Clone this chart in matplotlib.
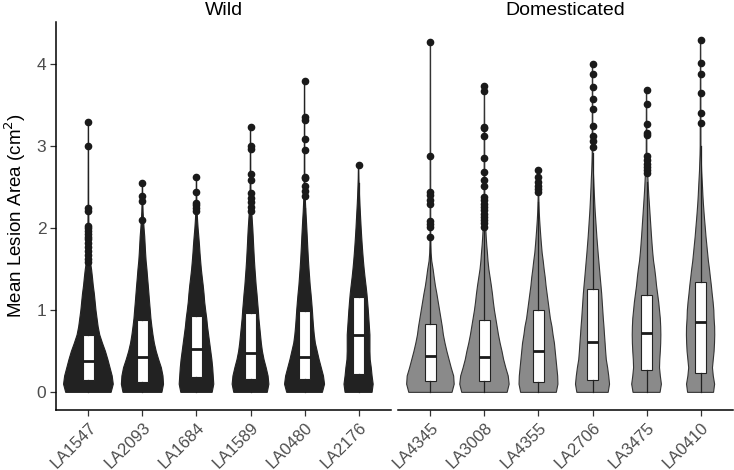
import numpy as np
import matplotlib
matplotlib.use("Agg")
import matplotlib.pyplot as plt
import matplotlib.transforms as mtrans

plt.rcParams['font.family'] = ['Liberation Sans', 'DejaVu Sans']

wild = ['LA1547', 'LA2093', 'LA1684', 'LA1589', 'LA0480', 'LA2176']
dom = ['LA4345', 'LA3008', 'LA4355', 'LA2706', 'LA3475', 'LA0410']

# box statistics: lower whisker, q1, median, q3, upper whisker
box_stats = {
    'LA1547': [0.01, 0.146, 0.378, 0.70, 1.55],
    'LA2093': [0.01, 0.122, 0.427, 0.886, 2.00],
    'LA1684': [0.01, 0.187, 0.53, 0.93, 2.00],
    'LA1589': [0.01, 0.163, 0.48, 0.967, 2.15],
    'LA0480': [0.01, 0.159, 0.427, 0.996, 2.25],
    'LA2176': [0.01, 0.22, 0.695, 1.163, 2.55],
    'LA4345': [0.01, 0.134, 0.447, 0.829, 1.85],
    'LA3008': [0.01, 0.138, 0.431, 0.878, 1.98],
    'LA4355': [0.01, 0.122, 0.508, 1.00, 2.32],
    'LA2706': [0.01, 0.146, 0.614, 1.26, 2.92],
    'LA3475': [0.01, 0.268, 0.723, 1.19, 2.57],
    'LA0410': [0.01, 0.236, 0.857, 1.34, 3.00],
}

outliers = {
    'LA1547': [3.30, 3.00, 2.25, 2.21, 2.03, 2.00, 1.97, 1.93, 1.90, 1.87, 1.82, 1.77, 1.72, 1.67, 1.63, 1.59],
    'LA2093': [2.55, 2.39, 2.33, 2.10],
    'LA1684': [2.62, 2.44, 2.31, 2.28, 2.25, 2.21],
    'LA1589': [3.23, 3.00, 2.97, 2.66, 2.59, 2.43, 2.37, 2.32, 2.26, 2.21],
    'LA0480': [3.80, 3.36, 3.32, 3.09, 2.95, 2.63, 2.61, 2.51, 2.45, 2.39],
    'LA2176': [2.77],
    'LA4345': [4.27, 2.88, 2.44, 2.40, 2.35, 2.30, 2.09, 2.05, 2.01, 1.90],
    'LA3008': [3.74, 3.67, 3.24, 3.22, 3.13, 2.86, 2.69, 2.59, 2.52, 2.38, 2.34, 2.30,
               2.26, 2.22, 2.18, 2.14, 2.10, 2.06, 2.02],
    'LA4355': [2.71, 2.63, 2.56, 2.52, 2.48, 2.44],
    'LA2706': [4.00, 3.88, 3.72, 3.58, 3.45, 3.25, 3.12, 3.06, 2.99],
    'LA3475': [3.69, 3.51, 3.27, 3.16, 3.14, 2.88, 2.83, 2.79, 2.75, 2.71, 2.67],
    'LA0410': [4.30, 4.02, 3.88, 3.65, 3.40, 3.28],
}

# violin half-widths read at y = 0, 0.1, 0.2, ... ; violin then runs thin up to max value
violin_half = {
    'LA1547': [0.42, 0.46, 0.44, 0.40, 0.36, 0.315, 0.26, 0.21, 0.18, 0.16, 0.14, 0.125, 0.11,
               0.09, 0.075, 0.058, 0.035, 0.022, 0.016, 0.012, 0.01, 0.008, 0.007, 0.005],
    'LA2093': [0.36, 0.39, 0.38, 0.35, 0.30, 0.255, 0.22, 0.195, 0.175, 0.157, 0.145, 0.132, 0.12,
               0.108, 0.095, 0.083, 0.068, 0.058, 0.05, 0.042, 0.03, 0.02, 0.012, 0.008, 0.005],
    'LA1684': [0.29, 0.32, 0.31, 0.30, 0.285, 0.265, 0.245, 0.225, 0.205, 0.19, 0.17, 0.152, 0.14,
               0.125, 0.107, 0.09, 0.077, 0.065, 0.055, 0.043, 0.03, 0.02, 0.012, 0.008, 0.005],
    'LA1589': [0.31, 0.34, 0.325, 0.29, 0.25, 0.22, 0.20, 0.185, 0.17, 0.155, 0.145, 0.132, 0.12,
               0.105, 0.094, 0.083, 0.073, 0.065, 0.057, 0.05, 0.042, 0.032, 0.022, 0.015, 0.01,
               0.007, 0.005],
    'LA0480': [0.33, 0.37, 0.35, 0.31, 0.27, 0.235, 0.20, 0.18, 0.166, 0.155, 0.145, 0.133, 0.12,
               0.105, 0.094, 0.083, 0.073, 0.065, 0.057, 0.05, 0.042, 0.034, 0.025, 0.018, 0.012,
               0.008, 0.005],
    'LA2176': [0.25, 0.27, 0.25, 0.235, 0.215, 0.21, 0.21, 0.21, 0.20, 0.19, 0.18, 0.168, 0.155,
               0.138, 0.12, 0.104, 0.09, 0.078, 0.067, 0.057, 0.048, 0.04, 0.032, 0.024, 0.017,
               0.012, 0.007],
    'LA4345': [0.40, 0.44, 0.43, 0.385, 0.345, 0.305, 0.27, 0.24, 0.22, 0.195, 0.17, 0.145, 0.12,
               0.092, 0.07, 0.05, 0.025, 0.013, 0.008, 0.006],
    'LA3008': [0.42, 0.457, 0.44, 0.395, 0.355, 0.325, 0.29, 0.26, 0.235, 0.21, 0.185, 0.165,
               0.148, 0.128, 0.105, 0.082, 0.066, 0.055, 0.042, 0.032, 0.024, 0.015, 0.01, 0.007],
    'LA4355': [0.33, 0.36, 0.355, 0.34, 0.325, 0.31, 0.295, 0.27, 0.25, 0.22, 0.20, 0.18, 0.16,
               0.14, 0.125, 0.105, 0.088, 0.068, 0.055, 0.043, 0.032, 0.022, 0.014, 0.009, 0.006],
    'LA2706': [0.29, 0.315, 0.30, 0.28, 0.255, 0.243, 0.233, 0.222, 0.212, 0.20, 0.19, 0.18, 0.17,
               0.157, 0.143, 0.13, 0.117, 0.104, 0.092, 0.08, 0.07, 0.06, 0.05, 0.042, 0.035,
               0.028, 0.022, 0.015, 0.01, 0.006],
    'LA3475': [0.25, 0.275, 0.255, 0.24, 0.245, 0.255, 0.262, 0.265, 0.262, 0.255, 0.24, 0.225,
               0.205, 0.185, 0.17, 0.152, 0.13, 0.115, 0.103, 0.092, 0.082, 0.072, 0.062, 0.052,
               0.042, 0.033, 0.026, 0.018, 0.01, 0.006],
    'LA0410': [0.24, 0.26, 0.235, 0.22, 0.235, 0.25, 0.258, 0.262, 0.26, 0.25, 0.245, 0.232,
               0.215, 0.20, 0.182, 0.165, 0.145, 0.13, 0.115, 0.10, 0.088, 0.075, 0.063, 0.052,
               0.043, 0.036, 0.028, 0.02, 0.015, 0.01, 0.007],
}

W, H = 734, 470
fig = plt.figure(figsize=(W / 100, H / 100), dpi=100)
ax_w = fig.add_axes([56 / W, 60 / H, 335 / W, 388 / H])
ax_d = fig.add_axes([398 / W, 60 / H, 335 / W, 388 / H], sharey=ax_w)

tick_col = '#4d4d4d'


def draw_panel(ax, names, fill, edge, title):
    for i, name in enumerate(names):
        pos = i + 1
        hw = np.array(violin_half[name])
        ys = np.arange(len(hw)) * 0.1
        top = max(outliers[name])
        ys = np.append(ys, top)
        hw = np.append(hw, 0.003)
        xs = np.concatenate([pos - hw, (pos + hw)[::-1]])
        yy = np.concatenate([ys, ys[::-1]])
        ax.fill(xs, yy, facecolor=fill, edgecolor=edge, lw=0.8, zorder=1)

    stats = []
    for name in names:
        lo, q1, med, q3, hi = box_stats[name]
        stats.append(dict(whislo=lo, q1=q1, med=med, q3=q3, whishi=hi,
                          fliers=outliers[name]))
    ax.bxp(stats, positions=range(1, len(names) + 1), widths=0.19,
           patch_artist=True, showcaps=False,
           boxprops=dict(facecolor='white', edgecolor='#222222', lw=0.8),
           medianprops=dict(color='#1a1a1a', lw=2),
           whiskerprops=dict(color='#222222', lw=0.9),
           flierprops=dict(marker='o', markerfacecolor='#1a1a1a',
                           markeredgecolor='#1a1a1a', markersize=4.5),
           zorder=2)

    ax.set_xlim(0.4, len(names) + 0.6)
    ax.set_xticks(range(1, len(names) + 1))
    ax.set_xticklabels(names, rotation=45, ha='right', va='top',
                       rotation_mode='anchor', fontsize=12, color=tick_col)
    offset = mtrans.ScaledTranslation(5 / 100, 2 / 100, fig.dpi_scale_trans)
    for lab in ax.get_xticklabels():
        lab.set_transform(lab.get_transform() + offset)
    ax.set_title(title, fontsize=14, pad=5)
    for s in ['top', 'right']:
        ax.spines[s].set_visible(False)
    ax.spines['bottom'].set_linewidth(1.1)
    ax.spines['left'].set_linewidth(1.1)
    ax.tick_params(axis='both', direction='out', length=4, width=0.9,
                   color='#333333', labelcolor=tick_col, pad=3)
    ax.tick_params(axis='y', labelsize=12.5)


draw_panel(ax_w, wild, '#222222', '#222222', 'Wild')
draw_panel(ax_d, dom, '#8a8a8a', '#333333', 'Domesticated')

ax_w.set_ylim(-0.215, 4.515)
ax_w.set_yticks([0, 1, 2, 3, 4])
ax_w.set_ylabel('Mean Lesion Area (cm$^2$)', fontsize=13.5, labelpad=6)
ax_d.spines['left'].set_visible(False)
ax_d.tick_params(axis='y', left=False, labelleft=False)

fig.savefig('out.png', dpi=100)
